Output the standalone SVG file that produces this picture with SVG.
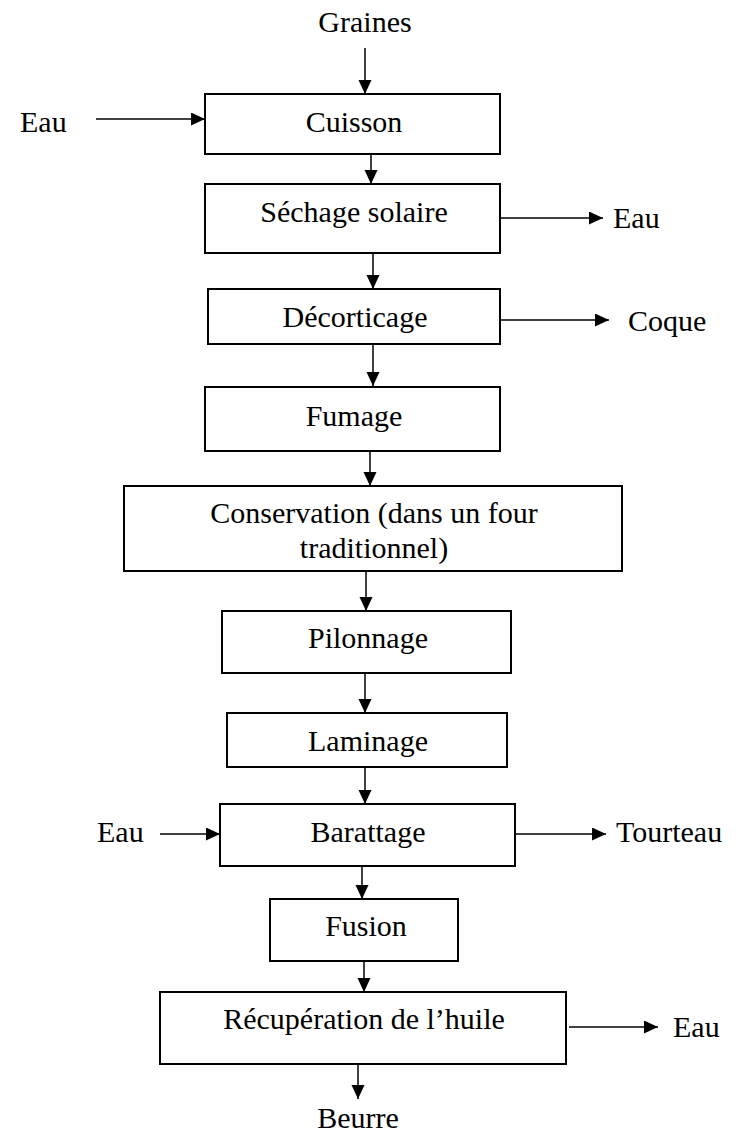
<svg xmlns="http://www.w3.org/2000/svg" width="736" height="1133" viewBox="0 0 736 1133">
<style>
.box{fill:#fff;stroke:#000;stroke-width:2}
text{font-family:"Liberation Serif","Times New Roman",serif;font-size:30px;fill:#000}
.c{text-anchor:middle}
.ln{stroke:#000;stroke-width:1.5;fill:none;marker-end:url(#ah)}
</style>
<defs>
<marker id="ah" markerUnits="userSpaceOnUse" markerWidth="14" markerHeight="14" refX="14" refY="6.5" orient="auto">
<path d="M0,0 L14,6.5 L0,13 Z" fill="#000"/>
</marker>
</defs>
<rect width="736" height="1133" fill="#fff"/>
<g id="connectors">
<line class="ln" x1="365" y1="48" x2="365" y2="94"/>
<line class="ln" x1="96" y1="119" x2="205" y2="119"/>
<line class="ln" x1="371" y1="154" x2="371" y2="184"/>
<line class="ln" x1="500" y1="218" x2="603" y2="218"/>
<line class="ln" x1="373" y1="253" x2="373" y2="289"/>
<line class="ln" x1="500" y1="320" x2="609" y2="320"/>
<line class="ln" x1="373" y1="344" x2="373" y2="386"/>
<line class="ln" x1="370" y1="451" x2="370" y2="486"/>
<line class="ln" x1="366" y1="571" x2="366" y2="611"/>
<line class="ln" x1="365" y1="673" x2="365" y2="713"/>
<line class="ln" x1="365" y1="767" x2="365" y2="804"/>
<line class="ln" x1="160" y1="834" x2="220" y2="834"/>
<line class="ln" x1="515" y1="834" x2="606" y2="834"/>
<line class="ln" x1="362" y1="866" x2="362" y2="899"/>
<line class="ln" x1="364" y1="961" x2="364" y2="992"/>
<line class="ln" x1="569" y1="1027" x2="658" y2="1027"/>
<line class="ln" x1="358" y1="1064" x2="358" y2="1099"/>
</g>
<g id="graines"><text class="c" x="365" y="32">Graines</text></g>
<g id="eau1"><text x="20" y="132">Eau</text></g>
<g id="cuisson"><rect class="box" x="205" y="94" width="295" height="60"/><text class="c" x="354" y="132">Cuisson</text></g>
<g id="sechage"><rect class="box" x="205" y="184" width="295" height="69"/><text class="c" x="354" y="222">Séchage solaire</text></g>
<g id="eau2"><text x="613" y="228">Eau</text></g>
<g id="decorticage"><rect class="box" x="208" y="289" width="292" height="55"/><text class="c" x="355" y="327">Décorticage</text></g>
<g id="coque"><text x="628" y="331">Coque</text></g>
<g id="fumage"><rect class="box" x="205" y="387" width="295" height="64"/><text class="c" x="354" y="426">Fumage</text></g>
<g id="conservation"><rect class="box" x="124" y="486" width="498" height="85"/><text class="c" x="374" y="523">Conservation (dans un four</text><text class="c" x="374" y="558">traditionnel)</text></g>
<g id="pilonnage"><rect class="box" x="222" y="611" width="289" height="62"/><text class="c" x="368" y="648">Pilonnage</text></g>
<g id="laminage"><rect class="box" x="227" y="713" width="280" height="54"/><text class="c" x="368" y="751">Laminage</text></g>
<g id="barattage"><rect class="box" x="220" y="804" width="295" height="62"/><text class="c" x="368" y="842">Barattage</text></g>
<g id="eau3"><text x="97" y="842">Eau</text></g>
<g id="tourteau"><text x="616" y="842">Tourteau</text></g>
<g id="fusion"><rect class="box" x="270" y="899" width="188" height="62"/><text class="c" x="366" y="936">Fusion</text></g>
<g id="recuperation"><rect class="box" x="160" y="992" width="406" height="72"/><text class="c" x="364" y="1029">Récupération de l’huile</text></g>
<g id="eau4"><text x="673" y="1037">Eau</text></g>
<g id="beurre"><text class="c" x="358" y="1128">Beurre</text></g>
</svg>
